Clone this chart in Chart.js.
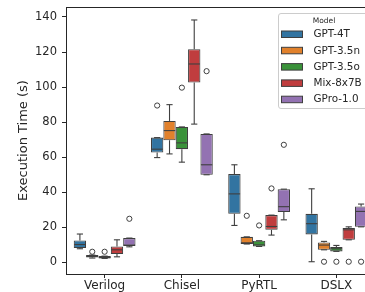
<!DOCTYPE html>
<html><head><meta charset="utf-8">
<script src="https://cdn.jsdelivr.net/npm/chart.js@4.4.1/dist/chart.umd.min.js"></script>
<style>
html,body{margin:0;padding:0;overflow:hidden;background:#fff;width:365px;height:292px}
#wrap{width:365px;height:292px;overflow:hidden;position:relative}
canvas{display:block}
</style></head><body>
<div id="wrap"><canvas id="c" width="375" height="292"></canvas></div>
<script>
// ---- data ----
const categories = ['Verilog', 'Chisel', 'PyRTL', 'DSLX'];
const models = ['GPT-4T', 'GPT-3.5n', 'GPT-3.5o', 'Mix-8x7B', 'GPro-1.0'];
// one row per model, one value per category
const whiskerLow  = [[7.8, 59.8, 21.1, 0.4], [2.5, 61.9, 10.5, 7.2], [2.3, 57.2, 9.1, 6.3], [3.2, 78.9, 15.6, 12.9], [8.9, 50.0, 24.3, 20.3]];
const q1          = [[8.2, 62.7, 27.7, 16.0], [2.8, 69.7, 10.5, 7.2], [2.3, 64.6, 9.1, 6.3], [4.8, 102.6, 18.6, 12.9], [9.4, 50.0, 28.7, 20.3]];
const median      = [[10.2, 64.6, 39.1, 22.1], [3.4, 75.2, 11.2, 9.9], [2.8, 68.2, 10.0, 7.8], [7.2, 113.2, 20.5, 18.6], [9.9, 55.7, 31.8, 29.1]];
const q3          = [[12.5, 71.2, 50.4, 27.7], [4.2, 80.7, 14.6, 11.4], [3.6, 77.3, 12.4, 8.8], [9.1, 121.6, 27.0, 19.6], [13.9, 73.3, 41.8, 31.9]];
const whiskerHigh = [[16.2, 71.2, 55.7, 42.0], [4.2, 90.0, 14.6, 12.0], [3.6, 77.3, 12.4, 9.7], [12.9, 138.3, 27.0, 20.3], [13.9, 73.3, 41.8, 33.3]];
// outliers per model: [categoryIndex, value]
const outliersGPT4T  = [[1, 89.5]];
const outliersGPT35n = [[0, 6.1], [2, 26.6], [3, 0.4]];
const outliersGPT35o = [[0, 6.1], [1, 99.7], [2, 21.1], [3, 0.4]];
const outliersMix    = [[2, 42.2], [3, 0.4]];
const outliersGPro   = [[0, 24.9], [1, 109.1], [2, 67.1], [3, 0.4]];
const outliers = [outliersGPT4T, outliersGPT35n, outliersGPT35o, outliersMix, outliersGPro];
const yTicks = [0, 20, 40, 60, 80, 100, 120, 140];

// ---- style ----
const FONT = "'DejaVu Sans', sans-serif";
const colors = ['#3274A1', '#E1812C', '#3A923A', '#C03D3E', '#9372B2'];
const edge = '#3f3f3f';
const axisColor = '#262626';

const datasets = models.map((m, k) => ({
  type: 'bar', label: m,
  data: categories.map((c, j) => [q1[k][j], q3[k][j]]),
  backgroundColor: colors[k], borderColor: edge, borderWidth: 1.1, borderSkipped: false,
  categoryPercentage: 0.8, barPercentage: 1.0
}));

const boxParts = {
  id: 'boxParts',
  afterDatasetsDraw(chart) {
    const ctx = chart.ctx, ys = chart.scales.y;
    ctx.save();
    ctx.strokeStyle = edge; ctx.lineWidth = 1.1;
    const seg = (x1, y1, x2, y2) => { ctx.beginPath(); ctx.moveTo(x1, y1); ctx.lineTo(x2, y2); ctx.stroke(); };
    models.forEach((m, k) => {
      const bars = chart.getDatasetMeta(k).data;
      bars.forEach((bar, j) => {
        const x = bar.x, w = bar.width;
        const yl = ys.getPixelForValue(whiskerLow[k][j]);
        const yh = ys.getPixelForValue(whiskerHigh[k][j]);
        const y1 = ys.getPixelForValue(q1[k][j]);
        const y3 = ys.getPixelForValue(q3[k][j]);
        const ym = ys.getPixelForValue(median[k][j]);
        seg(x, y1, x, yl); seg(x, y3, x, yh);
        seg(x - w / 4, yl, x + w / 4, yl);
        seg(x - w / 4, yh, x + w / 4, yh);
        seg(x - w / 2 + 0.5, ym, x + w / 2 - 0.5, ym);
      });
      // outliers: open circles at the box's x
      ctx.lineWidth = 1;
      outliers[k].forEach(([j, v]) => {
        const bar = bars[j];
        ctx.beginPath();
        ctx.arc(bar.x, ys.getPixelForValue(v), 2.6, 0, Math.PI * 2);
        ctx.stroke();
      });
      ctx.lineWidth = 1.1;
    });
    ctx.restore();
  },
  afterDraw(chart) {
    const ctx = chart.ctx, a = chart.chartArea;
    ctx.save();
    // top spine
    ctx.strokeStyle = axisColor; ctx.lineWidth = 1;
    ctx.beginPath(); ctx.moveTo(a.left, a.top + 0.5); ctx.lineTo(a.right, a.top + 0.5); ctx.stroke();
    // legend
    const L = 278.5, T = 13.5, W = 91, H = 95;
    ctx.beginPath();
    ctx.roundRect(L, T, W, H, 2.5);
    ctx.fillStyle = 'rgba(255,255,255,0.8)'; ctx.fill();
    ctx.strokeStyle = '#cccccc'; ctx.lineWidth = 1; ctx.stroke();
    ctx.fillStyle = axisColor;
    ctx.textAlign = 'center'; ctx.textBaseline = 'middle';
    ctx.font = '7.5px ' + FONT;
    ctx.fillText('Model', L + W / 2, T + 7.5);
    ctx.textAlign = 'left';
    ctx.font = '10.4px ' + FONT;
    models.forEach((m, i) => {
      const cy = T + 20.5 + i * 16.3;
      ctx.fillStyle = colors[i];
      ctx.fillRect(3 + L, cy - 3, 21, 6.5);
      ctx.strokeStyle = edge; ctx.lineWidth = 1;
      ctx.strokeRect(3 + L, cy - 3, 21, 6.5);
      ctx.fillStyle = axisColor;
      ctx.fillText(m, L + 35, cy + 0.5);
    });
    ctx.restore();
  }
};

new Chart(document.getElementById('c'), {
  type: 'bar',
  data: { labels: categories, datasets },
  options: {
    responsive: false, animation: false, events: [],
    layout: { padding: { top: 7, left: 0, right: 0, bottom: 0 } },
    plugins: { legend: { display: false }, tooltip: { enabled: false } },
    scales: {
      x: {
        type: 'category', offset: true,
        grid: { display: true, drawOnChartArea: false, drawTicks: true, tickLength: 4, color: axisColor, offset: false },
        border: { display: true, color: axisColor, width: 1 },
        ticks: { color: axisColor, font: { family: FONT, size: 12 }, padding: 1, maxRotation: 0 },
        afterFit(s) { s.height = 18; s.paddingLeft = 0; s.paddingRight = 0; }
      },
      y: {
        min: -6.6, max: 145.7,
        grid: { display: true, drawOnChartArea: false, drawTicks: true, tickLength: 4, color: axisColor },
        border: { display: true, color: axisColor, width: 1 },
        ticks: { color: axisColor, font: { family: FONT, size: 11.5 }, padding: 5 },
        afterBuildTicks(s) { s.ticks = yTicks.map(v => ({ value: v })); },
        title: { display: true, text: 'Execution Time (s)', color: axisColor, font: { family: FONT, size: 13 }, padding: { top: 16, bottom: 0 } },
        afterFit(s) { s.width = 66; s.paddingTop = 0; s.paddingBottom = 0; }
      }
    }
  },
  plugins: [boxParts]
});
</script>
</body></html>
